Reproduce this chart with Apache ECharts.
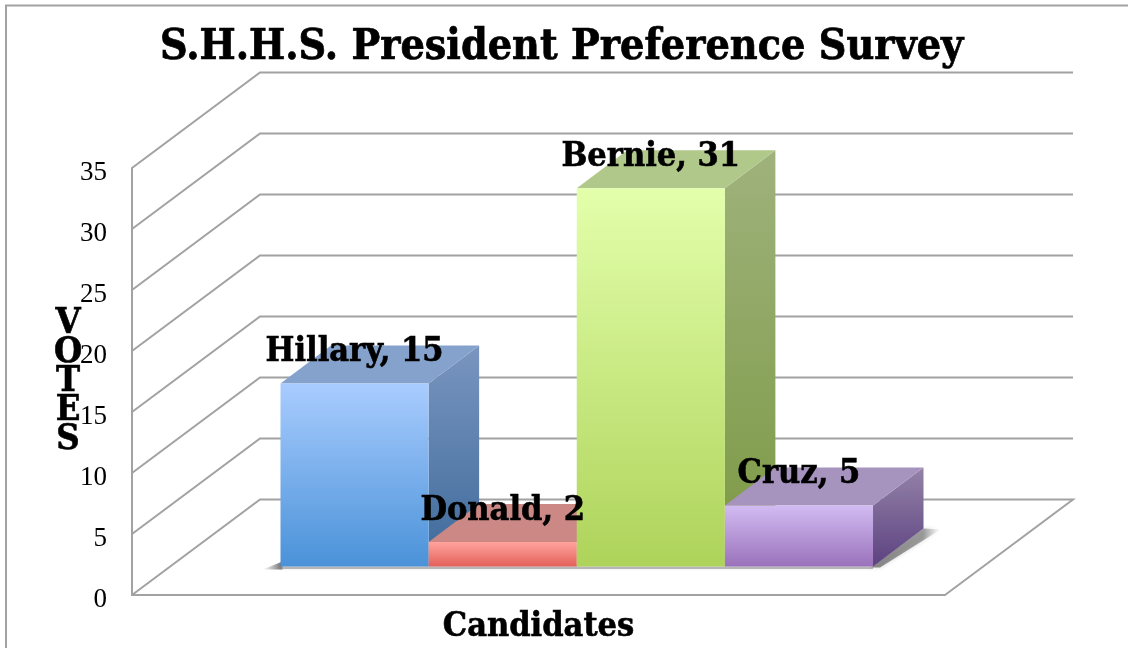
<!DOCTYPE html>
<html><head><meta charset="utf-8">
<style>html,body{margin:0;padding:0;background:#fff}#c{width:1128px;height:648px}</style>
<script src="https://cdn.jsdelivr.net/npm/echarts@6/dist/echarts.min.js"></script>
</head><body><div id="c"></div>
<script>
const titleText = 'S.H.H.S. President Preference Survey';
const category = ['Candidates'];
const candidates = ['Hillary', 'Donald', 'Bernie', 'Cruz'];
const votes = [15, 2, 31, 5];
const ticks = [0, 5, 10, 15, 20, 25, 30, 35];
const axisName = 'V\nO\nT\nE\nS';

const serifFont = '"DejaVu Serif Condensed","DejaVu Serif",serif';
const tickFont = '"Liberation Serif",serif';
const faceColors = [
  {front:['#A9CCFF','#4A92D8'], top:'#84A2CC', side:['#7A95C0','#3D6A9A']},
  {front:['#FFA39D','#E4605A'], top:'#CC8885', side:['#B06A66','#8E4340']},
  {front:['#E3FFAB','#AED35A'], top:'#B1C88B', side:['#9FB27C','#7B9943']},
  {front:['#D2BBF2','#9A72BB'], top:'#A693BE', side:['#9482A8','#5C4280']}
];
const wallDepth = [128, -95.5], barDepth = [50.5, -38], barShift = [-258, -28.5], barShare = 0.1822;
const grad = (a, b) => new echarts.graphic.LinearGradient(0, 0, 0, 1, [{offset:0,color:a},{offset:1,color:b}]);

const series = [];
// wall and floor lines
series.push({
  type:'custom', name:'grid', coordinateSystem:'cartesian2d', z:1, silent:true,
  data: ticks.map(t => [category[0], t]),
  renderItem(params, api){
    const p = api.coord([api.value(0), api.value(1)]);
    const cs = params.coordSys;
    const x0 = cs.x, y = p[1];
    const pts = [[x0,y],[x0+wallDepth[0],y+wallDepth[1]],[x0+cs.width+wallDepth[0],y+wallDepth[1]]];
    if (api.value(1) === 0) pts.push([x0+cs.width,y]);
    return {type:'polyline', shape:{points:pts}, style:{stroke:'#A2A2A2', lineWidth:2, fill:null}};
  }
});
// floor shadow
series.push({
  type:'custom', name:'shadow', coordinateSystem:'cartesian2d', z:2, silent:true,
  data:[[category[0], 0]],
  renderItem(params, api){
    const c = api.coord([api.value(0), 0]);
    const band = api.size([1,0])[0], w = band*barShare*candidates.length;
    const l = c[0]+barShift[0], b = c[1]+barShift[1];
    return {type:'group', children:[
      {type:'polygon', shape:{points:[[l+w-2,b+1],[l+w+7,b+1],[l+w+barDepth[0]+17,b+barDepth[1]+1],[l+w+barDepth[0],b+barDepth[1]]]},
       style:{fill:new echarts.graphic.LinearGradient(0,0,1,0,[{offset:0,color:'rgba(100,100,100,0.75)'},{offset:0.75,color:'rgba(125,125,125,0.7)'},{offset:1,color:'rgba(170,170,170,0)'}]),
              shadowBlur:4, shadowColor:'rgba(140,140,140,0.5)'}},
      {type:'polygon', shape:{points:[[l-18,b+3],[l+2,b+3],[l+2,b-5]]},
       style:{fill:new echarts.graphic.LinearGradient(0,0,1,0,[{offset:0,color:'rgba(130,130,130,0)'},{offset:1,color:'rgba(95,95,95,0.95)'}])}},
      {type:'rect', shape:{x:l,y:b,width:w,height:2.5}, style:{fill:'rgba(150,150,150,0.6)', shadowBlur:2, shadowColor:'rgba(150,150,150,0.5)'}}
    ]};
  }
});
// bars
candidates.forEach((name, i) => {
  series.push({
    type:'custom', name, coordinateSystem:'cartesian2d', z:3+i,
    data:[[category[0], votes[i]]],
    renderItem(params, api){
      const c = api.coord([api.value(0), 0]);
      const t = api.coord([api.value(0), api.value(1)]);
      const band = api.size([1,0])[0], w = band*barShare;
      const l = c[0]+barShift[0]+i*w, r = l+w, b = c[1]+barShift[1], u = t[1]+barShift[1];
      const dx = barDepth[0], dy = barDepth[1], col = faceColors[i];
      return {type:'group', children:[
        {type:'polygon', shape:{points:[[r,b],[r+dx,b+dy],[r+dx,u+dy],[r,u]]}, style:{fill:grad(col.side[0],col.side[1])}},
        {type:'polygon', shape:{points:[[l,u],[l+dx,u+dy],[r+dx,u+dy],[r,u]]}, style:{fill:col.top}},
        {type:'rect', shape:{x:l,y:u,width:w,height:b-u}, style:{fill:grad(col.front[0],col.front[1])}}
      ]};
    }
  });
});
// data labels on top of everything
series.push({
  type:'custom', name:'labels', coordinateSystem:'cartesian2d', z:20,
  data: candidates.map((n,i) => [category[0], votes[i], i]),
  renderItem(params, api){
    const i = api.value(2);
    const c = api.coord([api.value(0), 0]);
    const t = api.coord([api.value(0), api.value(1)]);
    const w = api.size([1,0])[0]*barShare;
    const x = c[0]+barShift[0]+(i+0.5)*w, y = t[1]+barShift[1]-31;
    return {type:'text', style:{text:candidates[i]+', '+votes[i], x, y, align:'center', verticalAlign:'middle',
      font:'bold 34px '+serifFont, fill:'#000', stroke:'#000', lineWidth:0.6}};
  }
});

const chart = echarts.init(document.getElementById('c'), null, {renderer:'canvas'});
chart.setOption({
  animation:false,
  backgroundColor:'#fff',
  title:{text:titleText, left:155, top:21,
    textStyle:{fontFamily:serifFont, fontWeight:'bold', fontSize:42.6, color:'#000', textBorderColor:'#000', textBorderWidth:0.7}},
  grid:{left:132, top:168, width:813, height:427},
  xAxis:{type:'category', data:category, boundaryGap:true,
    axisLine:{lineStyle:{color:'#A2A2A2', width:2}}, axisTick:{show:false},
    axisLabel:{margin:15, fontFamily:serifFont, fontWeight:'bold', fontSize:34, color:'#000', textBorderColor:'#000', textBorderWidth:0.6}},
  yAxis:{type:'value', min:0, max:35, interval:5,
    name:axisName, nameLocation:'middle', nameRotate:0, nameGap:64, nameMoveOverlap:false,
    nameTextStyle:{fontFamily:serifFont, fontWeight:'bold', fontSize:36, lineHeight:29, color:'#000', align:'center', verticalAlign:'middle', textBorderColor:'#000', textBorderWidth:0.6},
    axisLine:{show:true, lineStyle:{color:'#A2A2A2', width:2}}, axisTick:{show:false}, splitLine:{show:false},
    axisLabel:{margin:25, fontFamily:tickFont, fontSize:27, color:'#000', verticalAlign:'top', lineHeight:10}},
  graphic:[
    {type:'polyline', silent:true, shape:{points:[[6,648],[6,5.5],[1128,5.5]]}, style:{stroke:'#A2A2A2', lineWidth:2, fill:null}}
  ],
  series
});
</script></body></html>
